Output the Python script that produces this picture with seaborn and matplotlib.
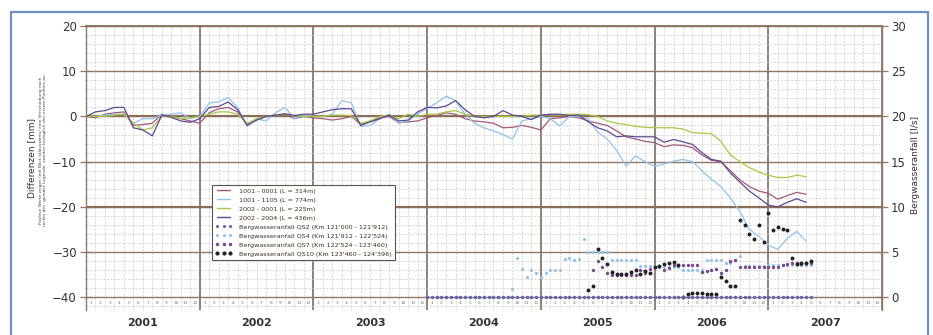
import matplotlib
matplotlib.use('Agg')
import matplotlib.pyplot as plt
import matplotlib.transforms as mtransforms
import numpy as np
import seaborn as sns
from matplotlib.lines import Line2D
from matplotlib.patches import Rectangle
from matplotlib.ticker import MultipleLocator

# monthly readings Jan 2001 .. May 2007, differences in mm
d_1001_0001 = [
    0.0, -0.3, 0.5, 0.8, 1.0, -2.0, -1.8, -1.5, 0.5, 0.0, -0.5, -1.0,
    -1.5, 0.8, 1.7, 2.0, 1.0, -1.8, -0.8, 0.0, 0.3, 0.5, -0.5, 0.0,
    -0.3, -0.5, -0.8, -0.5, 0.0, -1.8, -1.0, -0.3, 0.0, -1.4, -1.2, -1.0,
    -0.3, 0.2, 0.8, 0.5, -0.5, -1.0, -1.2, -1.5, -2.5, -2.4, -2.0, -2.4,
    -3.0, -0.5, -0.3, 0.0, -0.3, -1.0, -1.5, -2.0, -3.2, -4.5, -5.0, -5.5,
    -5.8, -6.7, -6.3, -6.4, -6.9, -8.5, -9.7, -10.0, -12.0, -14.0, -15.5, -16.5,
    -17.0, -18.3, -17.5, -16.8, -17.2]
d_1001_1105 = [
    0.0, 0.0, 0.3, 0.5, 0.5, -1.5, -0.5, -0.5, 0.3, 0.5, 0.8, -0.5,
    0.0, 3.0, 3.2, 4.2, 2.0, -2.2, -0.5, -1.0, 0.8, 2.0, -0.5, 0.3,
    0.0, 0.0, 0.5, 3.5, 3.0, -2.2, -2.0, -0.5, 0.5, -1.5, -1.0, 0.5,
    1.8, 3.0, 4.5, 3.5, 0.5, -1.5, -2.5, -3.2, -4.0, -5.0, -1.0, -0.5,
    0.0, -0.5, -2.1, 0.0, 0.0, -0.5, -3.5, -5.0, -7.5, -11.0, -8.7, -10.0,
    -11.0, -10.5, -9.9, -9.5, -10.0, -12.0, -13.9, -15.5, -18.0, -21.0, -25.0, -26.5,
    -28.5, -29.4, -27.0, -25.4, -27.6]
d_2002_0001 = [
    0.0, 0.0, 0.0, 0.3, 0.5, -1.5, -3.0, -2.5, 0.0, 0.0, -0.5, -0.3,
    0.0, 0.5, 1.0, 1.0, 0.5, -1.5, -0.5, 0.0, 0.3, 0.5, 0.2, 0.0,
    0.0, 0.0, 0.3, 0.3, 0.2, -1.5, -1.0, 0.0, 0.3, -0.5, 0.5, 0.0,
    0.5, 0.5, 1.0, 1.3, 0.5, 0.0, 0.0, 0.0, 0.0, 0.0, 0.0, 0.3,
    0.3, 0.4, 0.3, 0.5, 0.5, 0.4, 0.0, -1.0, -1.5, -1.8, -2.2, -2.4,
    -2.5, -2.5, -2.5, -2.8, -3.6, -3.7, -3.8, -5.5, -8.5, -10.0, -11.3, -12.3,
    -13.0, -13.5, -13.5, -13.0, -13.3]
d_2002_2004 = [
    0.0, 1.0, 1.3, 2.0, 2.0, -2.5, -3.0, -4.3, 0.3, -0.2, -1.0, -1.3,
    -0.5, 2.0, 2.2, 3.2, 1.5, -2.0, -0.8, 0.0, 0.3, 0.6, 0.2, 0.5,
    0.5, 1.0, 1.5, 1.7, 1.7, -2.0, -1.2, -0.5, 0.3, -1.0, -0.8, 1.0,
    2.0, 1.9, 2.3, 3.5, 1.5, 0.0, -0.3, 0.0, 1.3, 0.3, 0.0, -0.7,
    0.3, 0.5, 0.5, 0.2, 0.3, -1.2, -2.5, -3.2, -4.5, -4.3, -4.5, -4.5,
    -4.5, -5.7, -5.1, -5.6, -6.2, -8.0, -9.5, -9.9, -12.5, -14.5, -16.5, -18.0,
    -19.6, -20.0, -19.0, -18.2, -19.0]

# half-monthly readings Jan 2004 .. May 2007, Bergwasseranfall in l/s
nan = np.nan
qs2 = [
    0.0, 0.0, 0.0, 0.0, 0.0, 0.0, 0.0, 0.0, 0.0, 0.0, 0.0, 0.0,
    0.0, 0.0, 0.0, 0.0, 0.0, 0.0, 0.0, 0.0, 0.0, 0.0, 0.0, 0.0,
    0.0, 0.0, 0.0, 0.0, 0.0, 0.0, 0.0, 0.0, 0.0, 0.0, 0.0, 0.0,
    0.0, 0.0, 0.0, 0.0, 0.0, 0.0, 0.0, 0.0, 0.0, 0.0, 0.0, 0.0,
    0.0, 0.0, 0.0, 0.0, 0.0, 0.0, 0.0, 0.0, 0.0, 0.0, 0.0, 0.0,
    0.0, 0.0, 0.0, 0.0, 0.0, 0.0, 0.0, 0.0, 0.0, 0.0, 0.0, 0.0,
    0.0, 0.0, 0.0, 0.0, 0.0, 0.0, 0.0, 0.0, 0.0, 0.0]
qs4 = [
    0.0, 0.0, 0.0, 0.0, 0.0, 0.0, 0.0, 0.0, 0.0, 0.0, 0.0, 0.0,
    0.0, 0.0, 0.0, 0.0, 0.0, 0.0, 0.9, 4.4, 3.1, 2.2, 3.0, 2.7,
    2.3, 2.7, 3.0, 3.0, 3.0, 4.2, 4.3, 4.1, 4.2, 6.5, 5.0, 5.0,
    5.0, 5.0, 5.0, 4.1, 4.1, 4.1, 4.1, 4.1, 4.1, 3.5, 3.5, 3.5,
    3.3, 3.3, 3.3, 3.3, 3.3, 3.3, 3.0, 3.0, 3.0, 3.0, 3.0, 4.1,
    4.1, 4.1, 4.1, 3.8, 3.8, 4.1, 4.6, 3.5, 3.5, 3.5, 3.5, 3.5,
    3.6, 3.6, 3.6, 3.6, 3.6, 3.6, 3.6, 3.6, 3.6, 3.6]
qs7 = [
    nan, nan, nan, nan, nan, nan, nan, nan, nan, nan, nan, nan,
    nan, nan, nan, nan, nan, nan, nan, nan, nan, nan, nan, nan,
    nan, nan, nan, nan, nan, nan, nan, nan, nan, nan, nan, 3.0,
    4.0, 3.3, 2.7, 2.5, 2.5, 2.5, 2.5, 2.5, 2.5, 3.0, 2.7, 3.1,
    3.3, 3.5, 3.0, 3.2, 3.6, 3.6, 3.6, 3.6, 3.6, 3.6, 2.8, 2.9,
    3.0, 3.1, 2.7, 3.0, 4.0, 4.1, 3.3, 3.3, 3.3, 3.3, 3.3, 3.3,
    3.3, 3.3, 3.3, 3.6, 3.7, 3.8, 3.8, 3.7, 3.8, 3.8]
qs10 = [
    nan, nan, nan, nan, nan, nan, nan, nan, nan, nan, nan, nan,
    nan, nan, nan, nan, nan, nan, nan, nan, nan, nan, nan, nan,
    nan, nan, nan, nan, nan, nan, nan, nan, nan, nan, 0.8, 1.2,
    5.3, 4.3, 3.7, 2.8, 2.6, 2.6, 2.6, 2.8, 3.0, 2.6, 2.9, 2.7,
    3.3, 3.5, 3.7, 3.8, 3.9, 3.6, 0.0, 0.4, 0.5, 0.5, 0.5, 0.4,
    0.4, 0.4, 2.2, 1.8, 1.2, 1.2, 8.6, 8.0, 7.0, 6.4, 8.0, 6.1,
    9.3, 7.5, 7.8, 7.6, 7.4, 4.3, 3.7, 3.8, 3.8, 4.0]

years = [2001, 2002, 2003, 2004, 2005, 2006, 2007]
line_labels = ['1001 - 0001 (L = 314m)', '1001 - 1105 (L = 774m)',
               '2002 - 0001 (L = 225m)', '2002 - 2004 (L = 436m)']
dot_labels = ["Bergwasseranfall QS2 (Km 121'000 - 121'912)",
              "Bergwasseranfall QS4 (Km 121'912 - 122'524)",
              "Bergwasseranfall QS7 (Km 122'524 - 123'460)",
              "Bergwasseranfall QS10 (Km 123'460 - 124'396)"]

line_colors = ['#a4587a', '#8fc3ea', '#a9c843', '#5a4a92']
dot_colors = ['#6464ae', '#8fc3ea', '#7a4a8c', '#222222']

sns.set_theme(style='white')
plt.rcParams['font.family'] = ['DejaVu Sans']

fig = plt.figure(figsize=(9.33, 3.35), dpi=100)
ax = fig.add_axes([86 / 933, 1 - 310 / 335, 796 / 933, 284 / 335])
ax2 = ax.twinx()

t_lines = 2001 + np.arange(len(d_1001_0001)) / 12
t_dots = 2004 + np.arange(len(qs2)) / 24

for vals, c in zip([d_1001_0001, d_1001_1105, d_2002_0001, d_2002_2004],
                   line_colors):
    sns.lineplot(x=t_lines, y=vals, ax=ax, color=c, lw=0.9, legend=False,
                 estimator=None, sort=False)

# draw order: light blue, purple, black, zero line on top
dot_series = [(qs4, dot_colors[1], 5), (qs7, dot_colors[2], 6),
              (qs10, dot_colors[3], 8), (qs2, dot_colors[0], 6)]
for vals, c, s in dot_series:
    sns.scatterplot(x=t_dots, y=vals, ax=ax2, color=c, s=s, linewidth=0,
                    legend=False)

# left axis
ax.set_xlim(2001, 2008)
ax.set_ylim(-42.8, 20)
ax.set_yticks(range(-40, 21, 10))
ax.yaxis.set_minor_locator(MultipleLocator(2))
ax.set_xticks(years + [2008])
ax.set_xticks(np.arange(2001, 2008, 1 / 12), minor=True)
ax.set_xticklabels([])
ax.grid(which='minor', color='#cfc6c6', lw=0.5, ls=(0, (3, 2)))
ax.grid(which='major', axis='y', color='#8f7a6a', lw=1.0)
ax.grid(which='major', axis='x', color='#6f5e55', lw=1.1)
for yv in [0, -20]:
    ax.axhline(yv, color='#8a6e58', lw=1.5, zorder=0.9)
ax.tick_params(axis='y', which='major', direction='inout', length=9,
               color='#8f7a6a', width=0.9, labelsize=8.5, labelcolor='#333333',
               pad=2)
ax.tick_params(axis='x', which='both', length=0)
ax.tick_params(axis='y', which='minor', length=0)
for side in ['left', 'right']:
    ax.spines[side].set_color('#8f7a6a')
    ax.spines[side].set_linewidth(1.0)
ax.spines['top'].set_color('#8a6e58')
ax.spines['top'].set_linewidth(1.3)
ax.spines['bottom'].set_visible(False)
ax.set_facecolor('white')

# right axis
ax2.set_ylim(-1.4, 30)
ax2.set_yticks(range(0, 31, 5))
ax2.grid(False)
ax2.tick_params(axis='y', direction='inout', length=9, color='#8f7a6a',
                width=0.9, labelsize=8.5, labelcolor='#333333', pad=2)
for sp in ax2.spines.values():
    sp.set_visible(False)

# month numbers and year captions
for yr in years:
    for m in range(1, 13):
        ax.text(yr + (m - 0.5) / 12, -41.3, str(m), fontsize=3.2,
                color='#777777', ha='center', va='center')
trans = mtransforms.blended_transform_factory(ax.transData, ax.transAxes)
for yr in years:
    ax.text(yr + 0.5, -0.045, str(yr), transform=trans, fontsize=8,
            fontweight='bold', color='#333333', ha='center', va='center')

fig.text(32 / 933, 1 - 158 / 335, 'Differenzen [mm]', rotation=90,
         fontsize=6.5, color='#333333', ha='center', va='center')
fig.text(43 / 933, 1 - 150 / 335,
         'Positive Werte zeigen (mit Blick talauswärts) eine Verschiebung nach\n'
         'rechts des -gemäss Legende- zweiten bezüglich des ersten Punktes an.',
         rotation=90, fontsize=3.1, color='#444444', ha='center', va='center',
         multialignment='center', linespacing=1.3)
fig.text(915 / 933, 1 - 165 / 335, 'Bergwasseranfall [l/s]', rotation=90,
         fontsize=6.5, color='#333333', ha='center', va='center')

# legend
handles = [Line2D([], [], color=c, lw=1.0) for c in line_colors]
handles += [Line2D([], [], color=c, marker='o', ls='', markersize=ms)
            for c, ms in zip(dot_colors, [1.2, 1.2, 1.5, 2.0])]
leg = ax2.legend(handles, line_labels + dot_labels, loc='upper left',
                 bbox_to_anchor=((212 - 86) / 796, (310 - 185) / 284),
                 fontsize=4.6, numpoints=3, handlelength=2.6,
                 labelspacing=0.55, borderpad=0.5, handletextpad=1.2,
                 frameon=True, fancybox=False, framealpha=1,
                 edgecolor='#555555', borderaxespad=0)
leg.get_frame().set_linewidth(0.8)
for txt in leg.get_texts():
    txt.set_color('#3a3020')

fig.add_artist(Rectangle((11 / 933, -0.05), (928 - 11) / 933,
                         1.05 - 12 / 335, transform=fig.transFigure,
                         fill=False, ec='#6f8fc4', lw=1.6))

fig.savefig('out.png', dpi=100, facecolor='white')
